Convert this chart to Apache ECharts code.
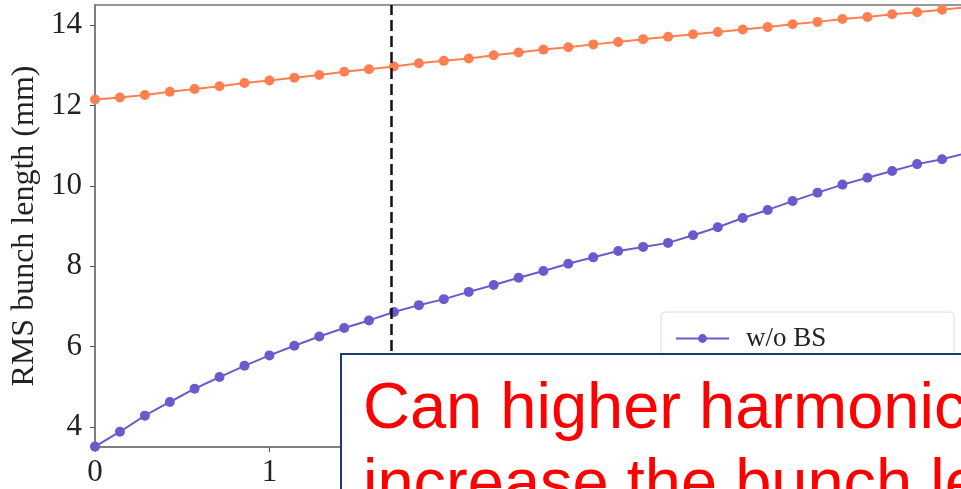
<!DOCTYPE html>
<html>
<head>
<meta charset="utf-8">
<script src="https://cdn.jsdelivr.net/npm/echarts@6/dist/echarts.min.js"></script>
<style>
  html, body { margin: 0; padding: 0; background: #fff; }
  #chart { width: 961px; height: 489px; }
</style>
</head>
<body>
<div id="chart"></div>
<script>
// sample positions along x
var xs = [0, 0.143, 0.286, 0.429, 0.571, 0.714, 0.857, 1, 1.143, 1.286, 1.429, 1.571,
  1.714, 1.857, 2, 2.143, 2.286, 2.429, 2.571, 2.714, 2.857, 3, 3.143, 3.286,
  3.429, 3.571, 3.714, 3.857, 4, 4.143, 4.286, 4.429, 4.571, 4.714, 4.857, 5];

// RMS bunch length (mm)
var withBS = [12.15, 12.20, 12.26, 12.34, 12.41, 12.48, 12.56, 12.62, 12.69, 12.76, 12.84, 12.90,
  12.97, 13.05, 13.11, 13.17, 13.25, 13.32, 13.39, 13.45, 13.52, 13.58, 13.65, 13.71,
  13.77, 13.83, 13.89, 13.95, 14.02, 14.08, 14.15, 14.20, 14.27, 14.32, 14.38, 14.45];
var withoutBS = [3.51, 3.88, 4.28, 4.62, 4.95, 5.24, 5.52, 5.78, 6.02, 6.25, 6.46, 6.65,
  6.86, 7.03, 7.18, 7.36, 7.53, 7.71, 7.88, 8.06, 8.22, 8.38, 8.48, 8.58,
  8.77, 8.97, 9.20, 9.40, 9.62, 9.83, 10.03, 10.20, 10.37, 10.54, 10.66, 10.82];

var yTicks = [4, 6, 8, 10, 12, 14];
var cutX = 1.7;

var serif = '"Liberation Serif", "DejaVu Serif", serif';

function pairs(ys) {
  return xs.map(function (x, i) { return [x, ys[i]]; });
}

var chart = echarts.init(document.getElementById('chart'));

chart.setOption({
  animation: false,
  grid: {
    left: 95, top: 5, bottom: 42, right: -6,
    containLabel: false, outerBoundsMode: 'none',
    show: true, borderColor: '#777', borderWidth: 1.5
  },
  legend: {
    data: ['w/o BS'],
    left: 670, top: 320,
    itemWidth: 53, itemHeight: 11,
    textStyle: { fontFamily: serif, fontSize: 27, color: '#222', padding: [0, 0, 0, 12] },
    z: 5
  },
  xAxis: {
    type: 'value', min: 0, max: 5, interval: 1,
    axisLine: { lineStyle: { color: '#777', width: 1.5 } },
    axisTick: { show: true, length: 5, lineStyle: { color: '#555' } },
    axisLabel: { fontFamily: serif, fontSize: 31, color: '#222', margin: 10 },
    splitLine: { show: false }
  },
  yAxis: {
    type: 'value', min: 3.5, max: 14.5,
    name: 'RMS bunch length (mm)',
    nameLocation: 'middle', nameGap: 53,
    nameTextStyle: { fontFamily: serif, fontSize: 32, color: '#222' },
    axisLine: { show: true, lineStyle: { color: '#777', width: 1.5 } },
    axisTick: { show: true, length: 5, customValues: yTicks, lineStyle: { color: '#555' } },
    axisLabel: { fontFamily: serif, fontSize: 31, color: '#222', margin: 13, customValues: yTicks },
    splitLine: { show: false }
  },
  series: [
    {
      name: 'w/ BS', type: 'line', data: pairs(withBS),
      symbol: 'circle', symbolSize: 10, showSymbol: true,
      itemStyle: { color: '#FF7F50' },
      lineStyle: { color: '#FF7F50', width: 2 },
      markLine: {
        silent: true, symbol: 'none', label: { show: false },
        lineStyle: { color: '#111', type: [11, 5], width: 2.5 },
        data: [{ xAxis: cutX }]
      }
    },
    {
      name: 'w/o BS', type: 'line', data: pairs(withoutBS),
      symbol: 'circle', symbolSize: 10, showSymbol: true,
      itemStyle: { color: '#6A5ACD' },
      lineStyle: { color: '#6A5ACD', width: 2 }
    }
  ],
  graphic: [
    {
      type: 'rect', z: 3,
      shape: { x: 661, y: 312, width: 293, height: 120, r: 4 },
      style: { fill: '#fff', stroke: '#ddd', lineWidth: 1 }
    },
    {
      type: 'rect', z: 50,
      shape: { x: 341, y: 354, width: 700, height: 200 },
      style: { fill: '#fff', stroke: '#1F3A6E', lineWidth: 2 }
    },
    {
      type: 'text', z: 51, x: 363, y: 372,
      style: {
        text: 'Can higher harmonic cavity\nincrease the bunch length?',
        font: '65px "Liberation Sans", Arial, sans-serif',
        lineHeight: 76, fill: '#FF0000', verticalAlign: 'top'
      }
    }
  ]
});
</script>
</body>
</html>
